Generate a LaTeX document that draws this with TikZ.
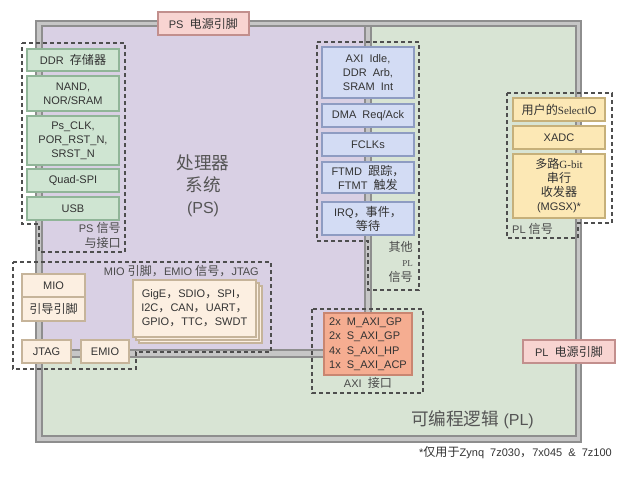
\documentclass[tikz,border=0pt]{standalone}
\usepackage{fontspec}
\setmainfont{Liberation Sans}
\newfontfamily\cjk[Scale=1.1]{Noto Sans CJK SC}
\newfontfamily\latserif{Liberation Serif}
\usepackage{xcolor}
\newcommand{\zhtxt}[1]{{\cjk #1}}
\definecolor{framefill}{HTML}{C6C6C6}
\definecolor{frameline}{HTML}{8E8E8E}
\definecolor{psfill}{HTML}{D9D0E4}
\definecolor{plfill}{HTML}{D8E4D4}
\definecolor{gfill}{HTML}{CFE5D2}
\definecolor{gedge}{HTML}{90B598}
\definecolor{bfill}{HTML}{D3DCF4}
\definecolor{bedge}{HTML}{8E9CC2}
\definecolor{yfill}{HTML}{FCE8B5}
\definecolor{yedge}{HTML}{C6B07A}
\definecolor{mfill}{HTML}{FCEFE1}
\definecolor{medge}{HTML}{C6B49A}
\definecolor{pwfill}{HTML}{F8D4D1}
\definecolor{pwedge}{HTML}{C28F8D}
\definecolor{axfill}{HTML}{F5AD91}
\definecolor{axedge}{HTML}{C98671}
\definecolor{txt}{HTML}{333333}
\definecolor{lbl}{HTML}{4A4A4A}
\definecolor{big}{HTML}{555555}
\definecolor{dash}{HTML}{4E4E4E}

\begin{document}
\begin{tikzpicture}[x=1pt,y=-1pt,
  blk/.style={line width=1.5pt, inner sep=0pt, align=center, text=txt,
    font=\fontsize{11}{14}\selectfont},
  gbox/.style={blk, draw=gedge, fill=gfill, minimum width=92pt},
  bbox/.style={blk, draw=bedge, fill=bfill, minimum width=92pt},
  ybox/.style={blk, draw=yedge, fill=yfill, minimum width=92pt},
  mbox/.style={blk, draw=medge, fill=mfill},
  pwbox/.style={blk, draw=pwedge, fill=pwfill, minimum width=91pt, minimum height=23pt},
  region/.style={draw=dash, line width=1.2pt, dash pattern=on 4pt off 3pt},
  tag/.style={inner sep=0pt, text=lbl, font=\fontsize{11}{15}\selectfont},
  title/.style={inner sep=0pt, text=big, align=center, font=\fontsize{16}{22}\selectfont}]
\useasboundingbox (0,0) rectangle (629,477);

\draw[frameline, fill=framefill, line width=1.5pt] (36,21) rectangle (581,442);
\draw[frameline, fill=plfill, line width=1.5pt] (42,26) rectangle (576,436);
\draw[frameline, fill=framefill, line width=1.5pt] (42,26) rectangle (371,357);
\draw[frameline, fill=psfill, line width=1.5pt] (42,26) rectangle (365,350);

\draw[region] (22,43) -- (125,43) -- (125,252) -- (39,252) -- (39,224) -- (22,224) -- cycle;
\draw[region] (317,42) -- (419,42) -- (419,290) -- (368,290) -- (368,241) -- (317,241) -- cycle;
\draw[region] (507,93) -- (612,93) -- (612,223) -- (578,223) -- (578,238) -- (507,238) -- cycle;
\draw[region] (13,262) -- (271,262) -- (271,352) -- (136,352) -- (136,369) -- (13,369) -- cycle;
\draw[region] (312,309) rectangle (423,393);

\node[pwbox] (pspwr) at (203.5,23.5) {PS\ \ \zhtxt{电源引脚}};
\node[pwbox, minimum width=92pt] (plpwr) at (569,351.5) {PL\ \ \zhtxt{电源引脚}};

\node[gbox, minimum height=22pt] (ddr) at (73,60) {DDR\ \ \zhtxt{存储器}};
\node[gbox, minimum height=35pt] (nand) at (73,93.5) {NAND,\\NOR/SRAM};
\node[gbox, minimum height=49pt] (psclk) at (73,140.5) {Ps\_CLK,\\POR\_RST\_N,\\SRST\_N};
\node[gbox, minimum height=23pt] (qspi) at (73,180.5) {Quad-SPI};
\node[gbox, minimum height=23pt] (usb) at (73,208.5) {USB};
\node[tag, align=right, anchor=east] (pssig) at (121,235.5) {PS\ \zhtxt{信号}\\\zhtxt{与接口}};

\node[title] (pstitle) at (203,186) {\zhtxt{处理器}\\\zhtxt{系统}\\(PS)};

\node[bbox, minimum height=51pt] (axiidle) at (368,72.5) {AXI\ \ Idle,\\DDR\ \ Arb,\\SRAM\ \ Int};
\node[bbox, minimum height=23pt] (dma) at (368,115.5) {DMA\ \ Req/Ack};
\node[bbox, minimum height=23pt] (fclk) at (368,144.5) {FCLKs};
\node[bbox, minimum height=31pt] (ftm) at (368,177.5) {FTMD\ \ \zhtxt{跟踪，}\\FTMT\ \ \zhtxt{触发}};
\node[bbox, minimum height=33pt] (irq) at (368,218.5) {IRQ\zhtxt{，事件，}\\\zhtxt{等待}};
\node[tag, align=right, anchor=east, font=\fontsize{11}{15}\selectfont] (othersig) at (413,262) {\zhtxt{其他}\\{\latserif\small PL}\\\zhtxt{信号}};

\node[ybox, minimum height=23pt] (selio) at (559,109.5) {\zhtxt{用户的}{\latserif Select}IO};
\node[ybox, minimum height=23pt] (xadc) at (559,137.5) {XADC};
\node[ybox, minimum height=64pt] (mgsx) at (559,186) {\zhtxt{多路}{\latserif G-bit}\\\zhtxt{串行}\\\zhtxt{收发器}\\(MGSX)*};
\node[tag, anchor=west] (plsig) at (512,229) {PL\ \zhtxt{信号}};

\node[tag, anchor=east] (miosig) at (259,271) {MIO\ \zhtxt{引脚，}EMIO\ \zhtxt{信号，}JTAG};
\node[mbox, minimum width=63pt, minimum height=23pt] (mio) at (53.5,285.5) {MIO};
\node[mbox, minimum width=63pt, minimum height=24pt] (boot) at (53.5,309) {\zhtxt{引导引脚}};
\node[mbox, minimum width=49pt, minimum height=23pt] (jtag) at (46.5,351.5) {JTAG};
\node[mbox, minimum width=48pt, minimum height=23pt] (emio) at (105,351.5) {EMIO};
\node[mbox, minimum width=123pt, minimum height=57pt] (periphc) at (200.5,314.5) {};
\node[mbox, minimum width=123pt, minimum height=57pt] (periphb) at (197.5,311.5) {};
\node[mbox, minimum width=123pt, minimum height=57pt] (periph) at (194.5,308.5) {GigE\zhtxt{，}SDIO\zhtxt{，}SPI\zhtxt{，}\\I2C\zhtxt{，}CAN\zhtxt{，}UART\zhtxt{，}\\GPIO\zhtxt{，}TTC\zhtxt{，}SWDT};

\node[blk, draw=axedge, fill=axfill, minimum width=88pt, minimum height=62pt, align=left,
  font=\fontsize{11}{14.5}\selectfont] (axi) at (368,344) {2x\ \ M\_AXI\_GP\\2x\ \ S\_AXI\_GP\\4x\ \ S\_AXI\_HP\\1x\ \ S\_AXI\_ACP};
\node[tag] (axisig) at (368,383) {AXI\ \ \zhtxt{接口}};

\node[title, anchor=east] (pltitle) at (534,420) {\zhtxt{可编程逻辑}\ (PL)};
\node[tag, anchor=east, text=txt] (note) at (612,453) {*\zhtxt{仅用于}Zynq\ \ 7z030\zhtxt{，}7x045\ \ \&\ \ 7z100};
\end{tikzpicture}
\end{document}
